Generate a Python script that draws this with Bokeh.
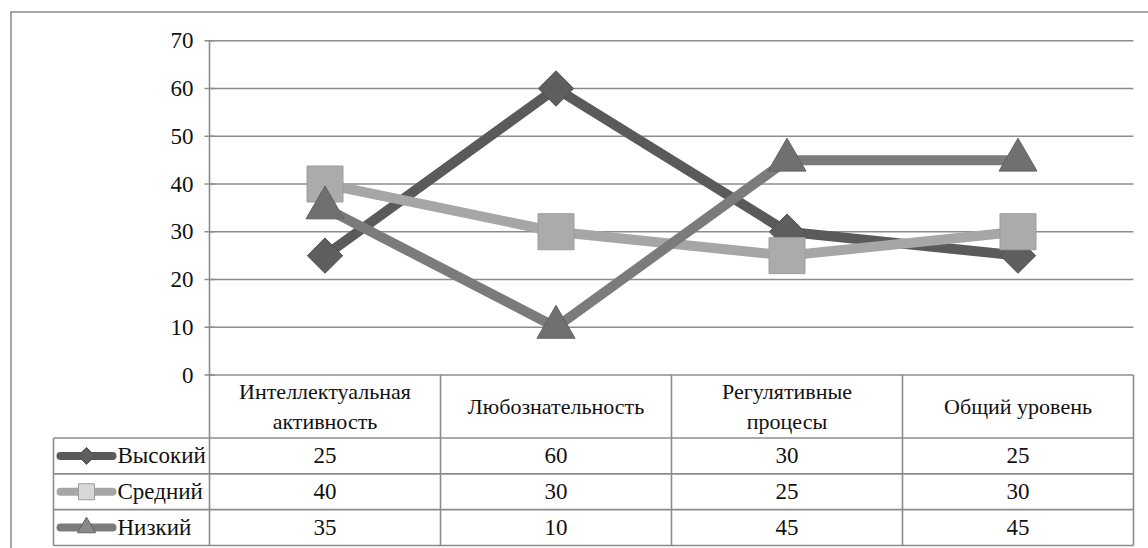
import math
from bokeh.plotting import figure
from bokeh.models import Range1d
from bokeh.embed import file_html
from bokeh.resources import INLINE
from bokeh.core.properties import value

# ---------------- data ----------------
categories = ["Интеллектуальная\nактивность", "Любознательность",
              "Регулятивные\nпроцесы", "Общий уровень"]
series_names = ["Высокий", "Средний", "Низкий"]
high = [25, 60, 30, 25]
mid = [40, 30, 25, 30]
low = [35, 10, 45, 45]
y_ticks = [0, 10, 20, 30, 40, 50, 60, 70]

# ---------------- layout (pixels -> data) ----------------
W, H = 1148, 548
AX_X = 209.0      # pixel x of value axis / first column edge
COL_W = 231.0     # pixel width of one category column
Y0 = 374.5        # pixel y of value 0
PPU = 4.775       # pixels per value unit


def xd(px):
    return (px - AX_X) / COL_W


def yd(py):
    return (Y0 - py) / PPU


def F():
    return value("Times New Roman")


GRID = "#8c8c8c"
TXT = "#111111"

p = figure(width=W, height=H,
           x_range=Range1d(xd(0), xd(W)), y_range=Range1d(yd(H), yd(0)),
           output_backend="svg", toolbar_location=None,
           x_axis_type=None, y_axis_type=None)
p.min_border_left = p.min_border_right = 0
p.min_border_top = p.min_border_bottom = 0
p.outline_line_color = None
p.background_fill_color = "white"
p.border_fill_color = "white"

ncat = len(categories)
ymax = y_ticks[-1]

# table geometry (in value units)
HEADER_H = 13.2
ROW_H = 7.5
LEG_LEFT = xd(53)
table_bottom = -(HEADER_H + ROW_H * len(series_names))

# outer chart-area border (left and top visible)
p.segment(x0=[xd(10.5), xd(10)], y0=[yd(11), yd(11.5)],
          x1=[xd(10.5), xd(W)], y1=[yd(H), yd(11.5)],
          line_color="#8a8a8a", line_width=1.5)

# horizontal gridlines (incl. 0 = table top)
p.segment(x0=[0] * len(y_ticks), y0=y_ticks, x1=[ncat] * len(y_ticks), y1=y_ticks,
          line_color=GRID, line_width=1.6)
# value axis line running down through the table
p.segment(x0=[0], y0=[ymax], x1=[0], y1=[table_bottom], line_color=GRID, line_width=1.6)
# tick marks
p.scatter(x=[0] * len(y_ticks), y=y_ticks, marker="dash", size=10,
          line_color=GRID, line_width=1.6)
# tick labels
p.text(x=[0] * len(y_ticks), y=y_ticks, text=[str(t) for t in y_ticks],
       x_offset=-16, text_align="right", text_baseline="middle",
       text_font=F(), text_font_size="23px", text_color=TXT)

# table lines
row_lines = [-(HEADER_H + ROW_H * r) for r in range(len(series_names) + 1)]
p.segment(x0=[LEG_LEFT] * len(row_lines), y0=row_lines,
          x1=[ncat] * len(row_lines), y1=row_lines,
          line_color=GRID, line_width=1.6)
p.segment(x0=list(range(1, ncat + 1)), y0=[0] * ncat,
          x1=list(range(1, ncat + 1)), y1=[table_bottom] * ncat,
          line_color=GRID, line_width=1.6)
p.segment(x0=[LEG_LEFT], y0=[-HEADER_H], x1=[LEG_LEFT], y1=[table_bottom],
          line_color=GRID, line_width=1.6)

# header labels
xc = [i + 0.5 for i in range(ncat)]
p.text(x=xc, y=[-HEADER_H / 2] * ncat, text=categories,
       text_align="center", text_baseline="middle", text_line_height=1.2,
       text_font=F(), text_font_size="22px", text_color=TXT)

# series
series_vals = [high, mid, low]
line_colors = ["#5a5a5a", "#a6a6a6", "#7b7b7b"]
marker_specs = [
    dict(marker="square", angle=math.pi / 4, size=25, fill_color="#5e5e5e", line_color="#505050"),
    dict(marker="square", angle=0, size=36, fill_color="#ababab", line_color="#9c9c9c"),
    dict(marker="triangle", angle=0, size=38, fill_color="#707070", line_color="#626262"),
]
legend_specs = [
    dict(marker="square", angle=math.pi / 4, size=12, fill_color="#5e5e5e", line_color="#505050"),
    dict(marker="square", angle=0, size=16, fill_color="#d8d8d8", line_color="#9c9c9c"),
    dict(marker="triangle", angle=0, size=18, fill_color="#8a8a8a", line_color="#626262"),
]

for vals, col, ms in zip(series_vals, line_colors, marker_specs):
    p.line(x=xc, y=vals, line_color=col, line_width=10, line_join="round")
    p.scatter(x=xc, y=vals, line_width=1, **ms)

# table rows: legend keys, names, values
for r, (name, vals, col, ls) in enumerate(zip(series_names, series_vals, line_colors, legend_specs)):
    yc = -(HEADER_H + ROW_H * r + ROW_H / 2)
    p.segment(x0=[xd(60)], y0=[yc], x1=[xd(112)], y1=[yc],
              line_color=col, line_width=8, line_cap="round")
    p.scatter(x=[xd(86)], y=[yc], line_width=1, **ls)
    p.text(x=[xd(117)], y=[yc], text=[name], text_align="left", text_baseline="middle",
           text_font=F(), text_font_size="23px", text_color=TXT)
    p.text(x=xc, y=[yc] * ncat, text=[str(v) for v in vals],
           text_align="center", text_baseline="middle",
           text_font=F(), text_font_size="23px", text_color=TXT)

open("out.html", "w").write(file_html(p, INLINE))
